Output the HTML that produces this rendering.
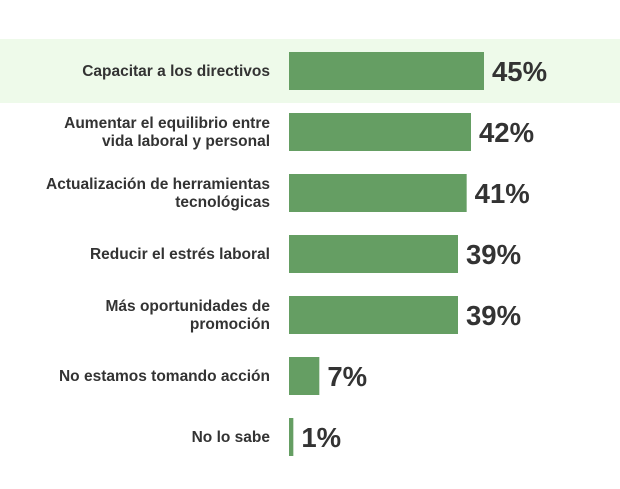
<!DOCTYPE html>
<html><head><meta charset="utf-8"><style>
body{margin:0;width:620px;height:489px;background:#fff;overflow:hidden;font-family:"Liberation Sans",Arial,sans-serif;}
svg{display:block}
</style></head><body>
<svg id="chart" width="620" height="489">
<rect x="0" y="39" width="620" height="64" fill="#eefaea"/>
</svg>
<script>
const categories=[["Capacitar a los directivos"],["Aumentar el equilibrio entre","vida laboral y personal"],["Actualización de herramientas","tecnológicas"],["Reducir el estrés laboral"],["Más oportunidades de","promoción"],["No estamos tomando acción"],["No lo sabe"]];
const values=[45,42,41,39,39,7,1];
const valueLabels=["45%","42%","41%","39%","39%","7%","1%"];
const svg=document.getElementById('chart');
const NS='http://www.w3.org/2000/svg';
const x0=289, pxPer=195/45, top0=52, step=61, bh=38;
const xScale=v=>v*pxPer;
const yScale=i=>top0+i*step;
values.forEach((v,i)=>{
  const y=yScale(i);
  const r=document.createElementNS(NS,'rect');
  r.setAttribute('x',x0);r.setAttribute('y',y);r.setAttribute('width',xScale(v));r.setAttribute('height',bh);r.setAttribute('fill','#659e63');
  
  
  svg.appendChild(r);
  const t=document.createElementNS(NS,'text');
  t.setAttribute('x',x0+xScale(v)+8);t.setAttribute('y',y+bh/2+10);
  t.setAttribute('font-size','27.5');t.setAttribute('font-weight','bold');t.setAttribute('fill','#333');
  t.textContent=valueLabels[i];
  
  
  svg.appendChild(t);
  const lines=categories[i];
  const lt=document.createElementNS(NS,'text');
  lt.setAttribute('text-anchor','end');lt.setAttribute('font-size','15.5');lt.setAttribute('font-weight','bold');lt.setAttribute('fill','#333');
  
  
  const startY=y+bh/2+5-(lines.length-1)*9;
  lines.forEach((s,j)=>{
    const ts=document.createElementNS(NS,'tspan');
    ts.setAttribute('x',270);ts.setAttribute('y',startY+j*18);ts.textContent=s;lt.appendChild(ts);
  });
  svg.appendChild(lt);
});
</script>
</body></html>
